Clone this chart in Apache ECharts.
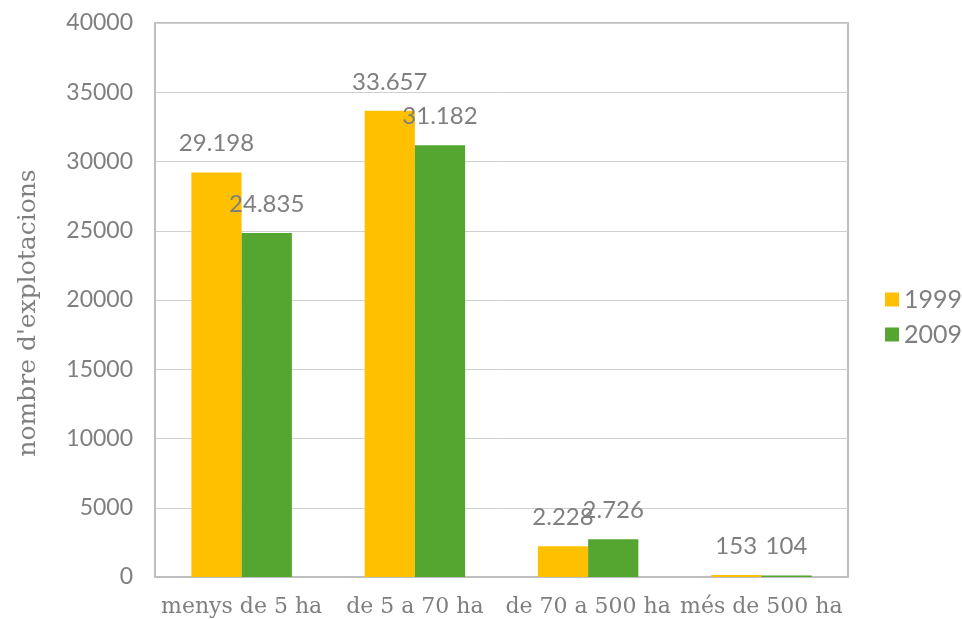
<!DOCTYPE html>
<html><head><meta charset="utf-8">
<script src="https://cdn.jsdelivr.net/npm/echarts@6/dist/echarts.min.js"></script>
<style>html,body{margin:0;padding:0;background:#fff}#c{width:962px;height:619px}</style>
</head><body><div id="c"></div>
<script>
const categories = ['menys de 5 ha', 'de 5 a 70 ha', 'de 70 a 500 ha', 'més de 500 ha'];
const values1999 = [29198, 33657, 2228, 153];
const values2009 = [24835, 31182, 2726, 104];
const seriesNames = ['1999', '2009'];
const yTicks = {min: 0, max: 40000, interval: 5000};

const fmt = v => String(v).replace(/\B(?=(\d{3})+(?!\d))/g, '.');
const numFont = 'Lato';
const slabFont = 'DejaVu Serif';
const grey = '#7f7f7f';

const chart = echarts.init(document.getElementById('c'));
const mkSeries = (name, data, color) => ({
  name, type: 'bar', data, barGap: '0%', barCategoryGap: '42%',
  itemStyle: {color},
  label: {show: true, position: 'top', distance: 17, formatter: p => fmt(p.value),
    color: grey, fontFamily: numFont, fontSize: 24}
});
chart.setOption({
  animation: false,
  grid: {left: 155, right: 114, top: 23, bottom: 42, show: true, borderColor: '#bfbfbf', borderWidth: 2},
  legend: {orient: 'vertical', left: 880, top: 282, itemWidth: 14, itemHeight: 14, itemGap: 10,
    icon: 'rect', textStyle: {color: grey, fontFamily: numFont, fontSize: 25},
    data: seriesNames},
  xAxis: {type: 'category', data: categories,
    axisLine: {show: true, lineStyle: {color: '#bfbfbf', width: 2}}, axisTick: {show: false},
    axisLabel: {color: grey, fontFamily: slabFont, fontSize: 22, margin: 19, interval: 0}},
  yAxis: {type: 'value', min: yTicks.min, max: yTicks.max, interval: yTicks.interval,
    name: "nombre d'explotacions", nameLocation: 'middle', nameGap: 114,
    nameTextStyle: {color: grey, fontFamily: slabFont, fontSize: 25, padding: [0, 26, 0, 0]},
    axisLine: {show: true, lineStyle: {color: '#bfbfbf', width: 2}},
    splitLine: {lineStyle: {color: '#d0d0d0', width: 1}},
    axisLabel: {color: grey, fontFamily: numFont, fontSize: 23, margin: 22, formatter: v => String(v)}},
  series: [mkSeries(seriesNames[0], values1999, '#FFC000'), mkSeries(seriesNames[1], values2009, '#55A630')]
});
</script></body></html>
